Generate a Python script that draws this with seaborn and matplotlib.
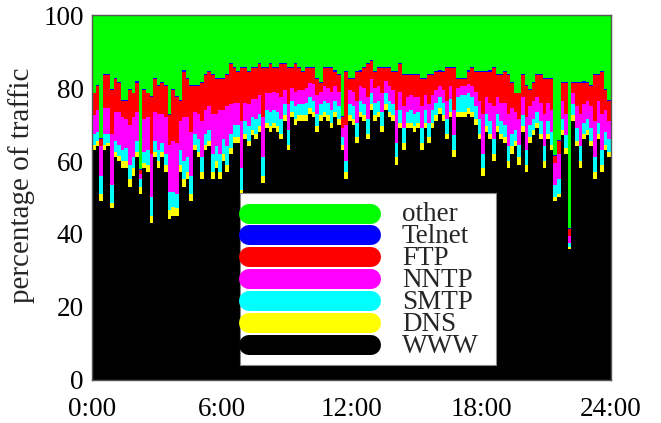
import numpy as np
import pandas as pd
import seaborn as sns
import matplotlib.pyplot as plt
from matplotlib.patches import Rectangle

# 10-minute slots over one day
slot_minutes = np.arange(0, 24 * 60, 10)

# share of traffic per slot (%)
www = np.array([
    63, 64, 49, 63, 64, 47, 61, 60, 58, 58, 53, 56, 61, 51, 58, 57, 43, 61, 58, 61,
    57, 44, 45, 45, 57, 53, 55, 49, 63,
    61, 55, 63, 64, 55, 58, 55, 60, 57, 62, 65, 65, 50, 66, 64, 67, 66, 68, 54, 69,
    68, 69, 68, 66, 71, 63, 72, 70, 71,
    71, 71, 73, 72, 68, 71, 72, 71, 69, 72, 70, 63, 55, 71, 70, 65, 72, 71, 66, 74,
    71, 72, 68, 74, 72, 71, 59, 69, 63,
    69, 69, 68, 69, 63, 69, 65, 69, 71, 73, 71, 66, 72, 61, 72, 72, 72, 73, 72, 70,
    66, 56, 68, 66, 60, 68, 66, 65, 58,
    62, 64, 59, 68, 57, 65, 67, 69, 66, 58, 66, 63, 49, 50, 67, 62, 36, 71, 64, 58,
    66, 67, 64, 55, 66, 57, 63, 61])

dns = np.array([
    1.5, 1.5, 2, 1.5, 1, 1.5, 1.5, 1.5, 2, 2, 2, 2, 1.5, 2, 1.5, 2, 2, 1.5, 2, 1.5,
    2, 2.5, 2.5, 2, 2, 2, 2, 2, 1.5,
    1.5, 2, 1.5, 1.5, 2, 2, 2, 2, 2, 1.5, 1.5, 1.5, 2, 1.5, 1.5, 1.5, 1.5, 1.5, 2, 1.5,
    1.5, 1.5, 1.5, 1.5, 1.5, 1.5, 1.5, 1.5, 1.5,
    1.5, 1.5, 1.5, 1.5, 1.5, 1.5, 1.5, 1.5, 1.5, 1.5, 1.5, 1.5, 2, 1.5, 1.5, 1.5, 1.5, 1.5, 1.5, 1.5,
    1.5, 1.5, 1.5, 1.5, 1.5, 1.5, 2, 1.5, 2,
    1.5, 1.5, 1.5, 1.5, 2, 1.5, 1.5, 1.5, 1.5, 1.5, 1.5, 1.5, 1.5, 2, 1.5, 1.5, 1.5, 1.5, 1.5, 1.5,
    1.5, 2, 1.5, 1.5, 2, 1.5, 1.5, 1.5, 2,
    2, 1.5, 2, 1.5, 2, 1.5, 1.5, 1.5, 1.5, 2, 1.5, 1.5, 1, 1, 1.5, 1.5, 0.5, 1.5, 1.5, 2,
    1.5, 1.5, 1.5, 2, 1.5, 2, 1.5, 1.5])

smtp = np.array([
    3, 2.5, 5, 3, 2.5, 5, 3, 3, 3, 3.5, 4, 3, 3, 2, 3, 4, 5, 3, 3, 2.5,
    3, 5, 4, 4, 4, 5, 4, 5, 3,
    3.5, 4, 3, 3, 5, 4, 5, 4, 5, 4, 3.5, 3.5, 6, 3.5, 4, 3.5, 4, 3.5, 5, 3.5,
    4, 3.5, 4, 4, 3, 4, 3, 3.5, 3,
    3, 3.5, 3, 3, 3.5, 3, 3, 3.5, 3.5, 3, 3.5, 2, 3, 3, 3.5, 4, 3, 3, 4, 3,
    3.5, 3, 4, 3, 3, 3, 4, 3.5, 4,
    3, 3.5, 3.5, 3, 4, 3.5, 4, 3.5, 3.5, 3, 3.5, 4, 3.5, 4, 4, 4.5, 4.5, 4, 4, 3.5,
    4, 4, 3.5, 3.5, 4, 3.5, 3.5, 3.5, 4,
    3.5, 3, 3.5, 3, 4, 3.5, 3, 3, 3.5, 4, 3.5, 3.5, 3.5, 4, 3, 3.5, 1, 3, 3.5, 4,
    3, 3, 3.5, 4, 3, 4, 3.5, 3.5])

nntp = np.array([
    5, 6, 8, 7, 7, 14, 8, 9, 9, 8, 11, 11, 8, 1.5, 9, 9, 12, 8, 10, 8,
    10, 13, 14, 14, 8, 12, 11, 12, 6,
    7, 10, 6.5, 6.5, 11, 9, 12, 8, 11, 8, 6, 6, 13, 5, 6, 5, 5.5, 5, 11, 4.5,
    5, 5, 5, 6, 4, 7, 3.5, 4, 4,
    4, 4, 4, 4.5, 5, 3.5, 4, 4, 5, 4, 4, 2.5, 10, 4, 4, 6, 4, 4.5, 6, 4,
    4, 4, 5, 3.5, 4, 4, 9, 5, 6,
    4, 4, 4.5, 4, 6, 4, 5, 4, 3.5, 3, 3.5, 5, 3.5, 7, 2.5, 2.5, 2.5, 2.5, 3, 4,
    5, 11, 4.5, 5, 9, 4.5, 5, 6, 9,
    7, 5, 7, 5, 9, 5, 5, 4, 5, 9, 5, 6, 6, 7, 5, 6, 2, 3, 6, 9,
    5, 5, 6, 10, 6, 10, 6, 5])

ftp = np.array([
    6, 6.5, 2, 9, 9, 12, 9, 8, 4.5, 5, 9.5, 6.5, 8, 1, 8, 6.5, 15.5, 9, 7.5, 8.5,
    8.5, 8, 14, 12.5, 5.5, 12.5, 10.5, 12.5, 7,
    7.5, 10.5, 9.5, 9.5, 10.5, 9.5, 8.5, 8.5, 8.5, 11, 9.5, 8.5, 14.5, 9.5, 9, 8.5, 8.5, 8.5, 13.5, 7,
    8, 6.5, 7, 9, 7, 10, 5.5, 7.5, 6,
    5, 5.5, 4, 4.5, 4.5, 2.5, 5, 5.5, 6.5, 4, 4.5, 3, 14.5, 3, 3.5, 8, 4, 5.5, 9, 5,
    4.5, 5, 7, 3.5, 5, 5, 10.5, 7.5, 8.5,
    6, 5.5, 6, 6, 7.5, 4.5, 8, 5.5, 5, 4, 5, 9, 5, 11.5, 2.5, 2, 2, 3.5, 5, 5.5,
    8, 11.5, 7, 8.5, 10.5, 6, 7.5, 8.5, 10.5,
    7, 5, 7, 6, 8.5, 4.5, 5, 6, 7.5, 9.5, 6.5, 8.5, 2, 3.5, 5, 8.5, 2, 3, 6.5, 8.5,
    6, 5, 5.5, 12.5, 7, 11.5, 5.5, 5.5])

telnet = np.array([
    0.25, 0.25, 0.2, 0.35, 0.25, 0.25, 0.35, 0.25, 0.25, 0.2, 0.25, 0.25, 0.35, 0.2, 0.25, 0.25,
    0.25, 0.35, 0.25, 0.25, 0.25, 0.4, 0.25, 0.25, 0.25, 0.35, 0.25, 0.25, 0.25,
    0.25, 0.25, 0.35, 0.25, 0.25, 0.25, 0.25, 0.25, 0.35, 0.25, 0.25, 0.25, 0.25, 0.35, 0.25, 0.25,
    0.25, 0.25, 0.2, 0.25, 0.35, 0.25, 0.25, 0.25, 0.25, 0.25, 0.25, 0.35, 0.25,
    0.25, 0.35, 0.25, 0.25, 0.25, 0.2, 0.25, 0.25, 0.25, 0.35, 0.25, 0.2, 0.25, 0.25, 0.25, 0.25,
    0.35, 0.25, 0.25, 0.25, 0.25, 0.25, 0.25, 0.35, 0.25, 0.25, 0.25, 0.25, 0.25,
    0.25, 0.25, 0.35, 0.25, 0.25, 0.25, 0.25, 0.25, 0.25, 0.35, 0.25, 0.25, 0.25, 0.25, 0.25, 0.25,
    0.25, 0.35, 0.25, 0.25, 0.25, 0.25, 0.25, 0.35, 0.25, 0.25, 0.25, 0.25, 0.25,
    0.25, 0.25, 0.25, 0.35, 0.25, 0.25, 0.25, 0.25, 0.35, 0.25, 0.25, 0.25, 0.2, 0.2, 0.25, 0.25,
    0.2, 0.25, 0.25, 0.25, 0.35, 0.25, 0.25, 0.25, 0.25, 0.25, 0.25, 0.25])

# whatever is left up to 100 %
other = 100 - (www + dns + smtp + nntp + ftp + telnet)

protocols = ['other', 'Telnet', 'FTP', 'NNTP', 'SMTP', 'DNS', 'WWW']
colors = ['#00ff00', '#0000ff', '#ff0000', '#ff00ff', '#00ffff', '#ffff00', '#000000']
xtick_labels = ['0:00', '6:00', '12:00', '18:00', '24:00']

df = pd.DataFrame({'hour': slot_minutes / 60 + 1 / 12,
                   'other': other, 'Telnet': telnet, 'FTP': ftp, 'NNTP': nntp,
                   'SMTP': smtp, 'DNS': dns, 'WWW': www})
long_df = df.melt(id_vars='hour', var_name='proto', value_name='pct')

sns.set_theme(style='white')
plt.rcParams['font.family'] = ['Liberation Serif', 'DejaVu Serif']

fig = plt.figure(figsize=(6.61, 4.23), dpi=100)
ax = fig.add_axes([0.1392, 0.1017, 0.7852, 0.8628])

# last hue level ends up at the bottom of the stack
sns.histplot(data=long_df, x='hour', weights='pct', hue='proto', hue_order=protocols,
             palette=colors, multiple='stack', bins=len(slot_minutes), binrange=(0, 24),
             element='step', alpha=1, linewidth=0, legend=False, ax=ax)

ax.set_xlim(0, 24)
ax.set_ylim(0, 100)
ax.set_xticks([0, 6, 12, 18, 24])
ax.set_xticklabels(xtick_labels)
ax.set_yticks([0, 20, 40, 60, 80, 100])
ax.tick_params(axis='both', length=0, labelsize=19.5, colors='black')
ax.tick_params(axis='x', pad=12)
ax.tick_params(axis='y', pad=6)
ax.set_xlabel('')
ax.set_ylabel('percentage of traffic', fontsize=21)
ax.yaxis.set_label_coords(-0.11, 0.534)
for s in ax.spines.values():
    s.set_color('#555555')
    s.set_linewidth(1)

# legend drawn as a white box with thick rounded bars
ax.add_patch(Rectangle((0.285, 0.041), 0.493, 0.471, transform=ax.transAxes,
                       facecolor='white', edgecolor='#888888', linewidth=0.8, zorder=5))
row_y = [0.455, 0.396, 0.336, 0.276, 0.216, 0.157, 0.096]
for col, y in zip(colors, row_y):
    ax.plot([0.3025, 0.5376], [y, y], transform=ax.transAxes, color=col, lw=14.4,
            solid_capstyle='round', zorder=6, clip_on=False)
# rows are packed tighter than the glyph height, so one multi-line text block
ax.text(0.597, np.mean(row_y) - 0.004, '\n'.join(protocols), transform=ax.transAxes,
        fontsize=19.5, va='center', ha='left', linespacing=0.84, zorder=6)

fig.savefig('out.png', dpi=100)
